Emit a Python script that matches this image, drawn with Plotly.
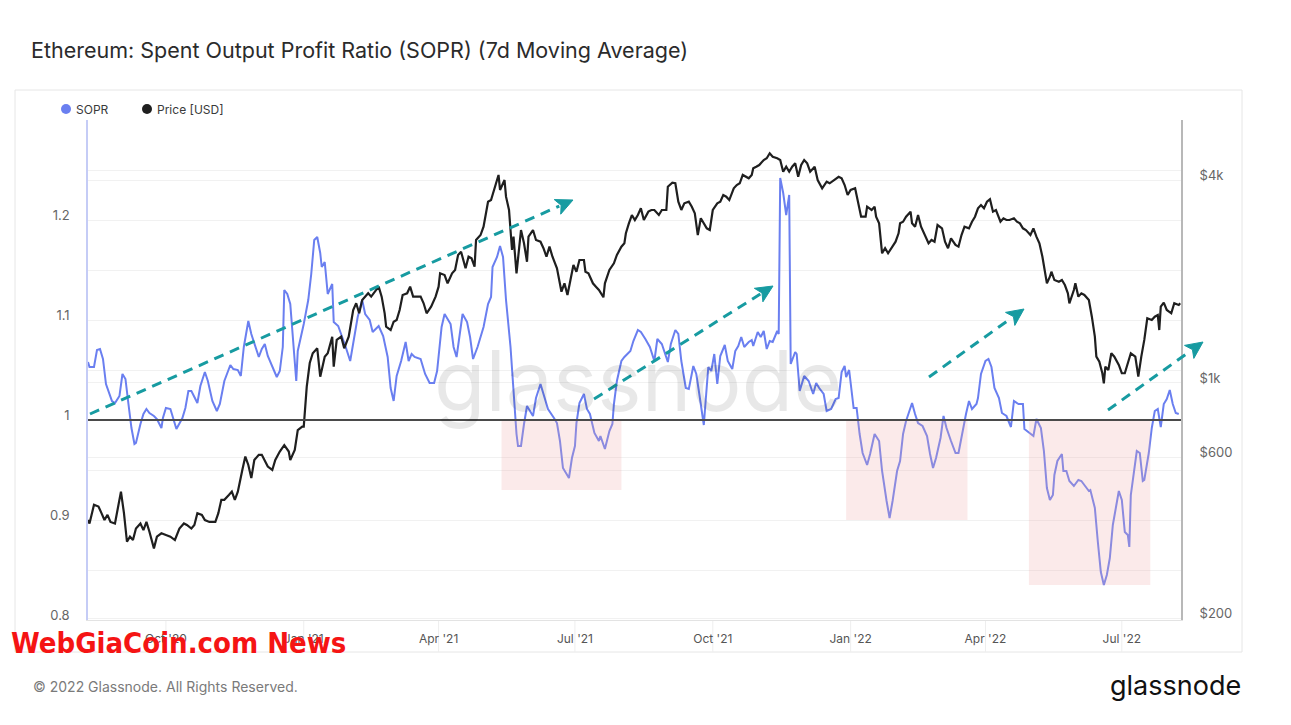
import math
import pandas as pd
import plotly.graph_objects as go

# ---------------- data ----------------
START = pd.Timestamp("2020-08-10")

sopr_day = [0,1,4,6,8,10,12,16,18,21,23,25,27,29,31,32,35,37,39,41,44,46,49,50,52,55,56,59,63,65,67,69,73,75,78,80,83,86,88,91,95,97,100,102,104,107,109,111,114,116,118,120,123,126,128,130,131,133,135,137,139,140,144,147,149,151,153,155,156,158,160,163,164,167,169,172,175,178,180,183,185,188,190,194,197,200,202,204,206,209,212,214,216,218,222,225,228,231,233,236,238,242,244,246,248,250,253,255,257,260,264,267,269,270,273,275,277,279,282,284,286,287,289,291,293,295,297,299,302,305,307,311,313,315,317,321,323,325,326,328,331,333,335,338,341,342,345,348,350,351,353,356,358,362,364,367,369,372,375,378,380,383,385,387,389,392,394,396,399,401,404,406,408,411,414,416,418,420,422,425,427,430,432,434,436,438,441,443,444,447,449,451,453,455,457,460,461,462,464,466,468,469,472,473,475,478,481,484,486,488,491,493,496,499,501,503,505,506,508,510,511,513,515,517,520,522,525,528,530,533,535,537,540,542,544,546,550,552,554,557,560,562,564,566,569,571,573,576,579,581,583,584,586,588,590,593,594,596,599,601,603,605,608,610,613,616,618,621,624,625,629,631,633,636,638,640,642,644,645,647,650,651,653,655,658,661,663,665,668,669,672,674,676,678,680,682,684,686,688,690,692,694,695,696,698,700,702,704,705,708,710,712,714,716,718,720,722,724,726,728]
sopr_val = [1.058,1.053,1.053,1.070,1.071,1.061,1.036,1.019,1.017,1.024,1.046,1.041,1.016,0.992,0.976,0.977,0.996,1.006,1.011,1.007,1.004,1.001,0.992,1.002,1.012,1.011,1.006,0.991,1.002,1.012,1.029,1.029,1.017,1.034,1.048,1.039,1.019,1.009,1.016,1.039,1.055,1.051,1.050,1.044,1.073,1.099,1.086,1.076,1.063,1.071,1.076,1.064,1.054,1.043,1.049,1.073,1.130,1.126,1.116,1.073,1.039,1.069,1.096,1.120,1.146,1.180,1.183,1.167,1.153,1.158,1.126,1.136,1.098,1.094,1.086,1.073,1.059,1.083,1.103,1.120,1.106,1.100,1.088,1.094,1.084,1.063,1.032,1.019,1.044,1.059,1.078,1.059,1.066,1.063,1.061,1.046,1.037,1.037,1.049,1.093,1.106,1.096,1.073,1.063,1.083,1.106,1.098,1.083,1.061,1.073,1.093,1.116,1.123,1.153,1.163,1.174,1.163,1.120,1.073,1.026,0.986,0.974,0.974,0.996,1.014,1.009,1.004,1.022,1.036,1.021,1.011,1.002,0.997,0.979,0.952,0.942,0.962,0.974,0.997,1.017,1.026,1.011,1.006,0.987,0.979,0.984,0.971,0.989,0.996,1.016,1.039,1.059,1.063,1.069,1.079,1.090,1.088,1.081,1.073,1.059,1.081,1.076,1.066,1.058,1.076,1.090,1.086,1.059,1.032,1.031,1.054,1.046,1.026,0.995,1.053,1.049,1.066,1.036,1.064,1.075,1.059,1.051,1.069,1.074,1.083,1.073,1.078,1.080,1.074,1.088,1.083,1.089,1.071,1.079,1.078,1.089,1.086,1.242,1.227,1.205,1.225,1.056,1.068,1.066,1.029,1.044,1.039,1.026,1.037,1.032,1.026,1.009,1.011,1.021,1.022,1.048,1.054,1.043,1.050,1.021,1.012,1.012,0.986,0.967,0.955,0.966,0.986,0.979,0.949,0.919,0.902,0.919,0.949,0.959,0.986,0.999,1.017,1.006,0.997,0.994,0.984,0.966,0.952,0.962,0.982,1.004,0.992,0.979,0.967,0.967,0.984,0.989,1.006,1.019,1.011,1.016,1.022,1.046,1.059,1.061,1.053,1.032,1.022,1.007,1.004,0.993,1.019,1.016,1.016,0.991,0.986,0.984,1.001,0.992,0.969,0.932,0.920,0.925,0.945,0.959,0.966,0.949,0.949,0.939,0.934,0.940,0.939,0.935,0.929,0.930,0.912,0.878,0.848,0.835,0.845,0.862,0.895,0.912,0.929,0.920,0.888,0.885,0.873,0.925,0.945,0.969,0.967,0.939,0.940,0.967,0.992,1.009,1.011,0.993,1.016,1.021,1.030,1.016,1.007,1.006]

price_day = [0,1,4,7,9,11,13,15,18,20,22,24,26,28,30,32,35,37,39,41,44,46,49,52,55,58,61,64,66,69,71,73,76,78,81,85,87,89,91,94,96,98,100,103,105,107,109,111,114,116,118,120,123,125,128,131,134,135,138,140,143,144,146,148,150,153,155,158,160,163,164,166,169,171,174,177,179,181,183,185,187,189,192,194,196,198,199,202,204,206,208,210,213,215,217,219,222,224,226,229,232,234,235,238,240,243,245,247,249,252,254,256,258,259,262,264,266,267,269,272,274,275,278,279,281,283,284,286,288,289,291,293,294,297,299,302,304,306,308,310,313,315,316,318,320,322,324,326,328,331,332,334,337,339,341,344,345,348,351,353,356,358,359,361,363,365,367,369,371,374,376,378,381,383,386,387,390,392,394,396,398,401,403,405,407,409,411,413,415,417,420,422,424,426,428,431,433,435,437,441,443,444,446,448,451,453,455,457,460,462,464,466,468,470,472,474,476,478,480,482,485,487,490,493,495,498,501,503,505,507,509,512,514,516,519,520,523,525,526,528,530,532,534,536,539,541,542,544,546,549,550,552,554,556,559,561,563,565,567,570,572,574,576,579,581,583,585,588,590,592,594,596,598,600,602,604,606,609,611,613,615,618,620,622,624,626,629,631,633,635,637,638,640,642,643,645,648,650,652,654,655,658,659,661,663,665,668,670,672,673,675,677,678,679,681,683,685,688,690,692,694,696,699,701,703,705,707,710,712,714,715,716,718,720,723,725,728,729]
price_val = [392,383,435,430,411,392,406,387,383,430,476,411,338,350,342,370,383,366,387,362,323,350,358,354,350,342,370,383,379,370,379,411,406,392,387,387,411,450,450,465,476,450,476,552,605,571,522,591,612,612,591,565,552,591,626,654,626,591,633,725,742,742,975,1146,1225,1268,1044,1197,1225,1372,1118,1342,1372,1268,1372,1647,1724,1610,1763,1804,1846,1804,1888,1931,1804,1610,1469,1436,1520,1538,1647,1825,1846,1931,1804,1804,1804,1724,1610,1684,1804,1931,2116,2091,1976,2116,2164,2398,2452,2189,2370,2344,2213,2657,2748,2909,3224,3451,3491,3914,4143,3738,4003,3571,3261,2481,2717,2116,2657,2844,2598,2290,2717,2844,2657,2626,2511,2370,2538,2370,2189,1976,1866,1976,1825,2021,2239,2139,2317,2317,2139,2116,1976,1931,1888,1796,1976,2164,2265,2398,2538,2598,2781,2977,3151,3045,3151,3299,3045,3224,3261,3261,3151,3261,3261,3824,3930,3914,3451,3261,3413,3451,3335,3188,2748,3081,2977,2877,2844,3261,3413,3451,3612,3571,3491,3782,3868,3914,4143,4049,4143,4335,4383,4434,4588,4642,4804,4693,4642,4588,4236,4383,4236,4383,4486,4093,4434,4588,4486,4236,4383,4003,3782,3957,3914,4003,4093,4049,3868,3612,3738,3782,3451,3115,3115,3335,3261,3335,3115,2977,2426,2511,2426,2511,2626,2781,2977,3010,3115,3224,2977,2909,3151,2909,2717,2598,2657,2626,2943,2877,2626,2511,2687,2568,2538,2748,2909,2877,3010,3115,3299,3374,3299,3451,3508,3224,3261,3010,3081,3045,3045,3081,3010,2977,2877,2844,2748,2877,2717,2598,2370,2239,1976,2067,2139,2021,1998,2021,1953,1846,1724,1888,1976,1804,1846,1825,1763,1573,1372,1197,1157,1069,998,1118,1093,1225,1197,1131,1069,1069,1144,1225,1197,1044,1197,1342,1556,1538,1573,1592,1436,1684,1731,1647,1610,1724,1704,1724]

x_range = ["2020-08-10", "2022-08-09 12:00"]
x_tick_dates = ["2020-10-01", "2021-01-01", "2021-04-01", "2021-07-01",
                "2021-10-01", "2022-01-01", "2022-04-01", "2022-07-01"]
x_tick_text = ["Oct '20", "Jan '21", "Apr '21", "Jul '21",
               "Oct '21", "Jan '22", "Apr '22", "Jul '22"]
sopr_range = [0.8, 1.3]
sopr_ticks = [0.8, 0.9, 1.0, 1.1, 1.2]
sopr_tick_text = ["0.8", "0.9", "1", "1.1", "1.2"]
price_log_range = [2.2967, 3.7804]
price_ticks = [200, 600, 1000, 4000]
price_tick_text = ["$200", "$600", "$1k", "$4k"]

# SOPR < 1 (capitulation) zones: start date, end date, lower SOPR bound
loss_start = ["2021-05-13", "2021-12-29", "2022-04-30"]
loss_end = ["2021-08-01", "2022-03-20", "2022-07-20"]
loss_low = [0.930, 0.900, 0.835]

# ---------------- layout helpers ----------------
W, H = 1291, 725
PL, PR, PT, PB = 88, 1181, 120, 620


def px(x):
    return (x - PL) / (PR - PL)


def py(y):
    return (PB - y) / (PB - PT)


FONT = "Inter, 'Noto Sans', sans-serif"
BLUE = "#6a7ff0"
BLACK = "#1f1f1f"
TEAL = "#179ba1"

sopr_dates = [START + pd.Timedelta(days=d) for d in sopr_day]
price_dates = [START + pd.Timedelta(days=d) for d in price_day]

fig = go.Figure()
fig.add_trace(go.Scatter(x=sopr_dates, y=sopr_val, mode="lines", name="SOPR",
                         line=dict(color=BLUE, width=2), yaxis="y", showlegend=False))
fig.add_trace(go.Scatter(x=price_dates, y=price_val, mode="lines", name="Price [USD]",
                         line=dict(color=BLACK, width=2.2), yaxis="y2", showlegend=False))

shapes = []
# chart container
shapes.append(dict(type="rect", xref="paper", yref="paper", x0=px(15), x1=px(1242),
                   y0=py(652), y1=py(90), line=dict(color="#e6e6e6", width=1),
                   fillcolor="rgba(0,0,0,0)", layer="below"))
# x tick separators below the axis
for d in x_tick_dates:
    shapes.append(dict(type="line", xref="x", yref="paper", x0=d, x1=d, y0=0, y1=py(652),
                       line=dict(color="#eeeeee", width=1), layer="below"))
# loss zones
for s, e, lo in zip(loss_start, loss_end, loss_low):
    shapes.append(dict(type="rect", xref="x", yref="y", x0=s, x1=e, y0=lo, y1=0.999,
                       fillcolor="rgba(240,170,170,0.25)", line=dict(width=0), layer="above"))
# SOPR = 1 baseline
shapes.append(dict(type="line", xref="paper", yref="y", x0=0, x1=1, y0=1.0, y1=1.0,
                   line=dict(color="#4a4a4a", width=2), layer="above"))

# dashed trend arrows (pixel positions of the analyst's drawing)
arrows = [(90, 414, 573, 200), (594, 399, 773, 286), (929, 377, 1024, 309), (1108, 410, 1203, 342)]
for x0, y0, x1, y1 in arrows:
    dx, dy = x1 - x0, y1 - y0
    L = math.hypot(dx, dy)
    ux, uy = dx / L, dy / L
    hl, hw = 17, 8
    bx, by = x1 - hl * ux, y1 - hl * uy
    nx, ny = -uy, ux
    shapes.append(dict(type="line", xref="paper", yref="paper", x0=px(x0), y0=py(y0),
                       x1=px(bx + 2 * ux), y1=py(by + 2 * uy),
                       line=dict(color=TEAL, width=3, dash="10px,7px"), layer="above"))
    pts = [(x1, y1), (bx + hw * nx, by + hw * ny), (bx + 4 * ux, by + 4 * uy), (bx - hw * nx, by - hw * ny)]
    path = "M " + " L ".join(f"{px(a):.5f},{py(b):.5f}" for a, b in pts) + " Z"
    shapes.append(dict(type="path", xref="paper", yref="paper", path=path,
                       fillcolor=TEAL, line=dict(color=TEAL, width=1), layer="above"))

# legend dots
for cx, col in [(66, BLUE), (147, BLACK)]:
    shapes.append(dict(type="circle", xref="paper", yref="paper",
                       x0=px(cx - 5), x1=px(cx + 5), y0=py(114), y1=py(104),
                       fillcolor=col, line=dict(width=0)))

annotations = [
    dict(text="SOPR", x=px(74), y=py(109.5), xref="paper", yref="paper", xanchor="left",
         yanchor="middle", showarrow=False, font=dict(family=FONT, size=12, color="#3a3a3a")),
    dict(text="Price [USD]", x=px(155), y=py(109.5), xref="paper", yref="paper", xanchor="left",
         yanchor="middle", showarrow=False, font=dict(family=FONT, size=12, color="#3a3a3a")),
    dict(text="glassnode", x=px(638), y=py(380), xref="paper", yref="paper", xanchor="center",
         yanchor="middle", showarrow=False,
         font=dict(family=FONT, size=84, color="rgba(0,0,0,0.09)")),
    dict(text="© 2022 Glassnode. All Rights Reserved.", x=px(31), y=py(686), xref="paper",
         yref="paper", xanchor="left", yanchor="middle", showarrow=False,
         font=dict(family=FONT, size=14, color="#7a7a7a")),
    dict(text="glassnode", x=px(1243), y=py(685), xref="paper", yref="paper", xanchor="right",
         yanchor="middle", showarrow=False, font=dict(family=FONT, size=27, color="#111111")),
    dict(text="<span style='font-stretch:condensed'><b>WebGiaCoin.com News</b></span>",
         x=px(9), y=py(643), xref="paper", yref="paper",
         xanchor="left", yanchor="middle", showarrow=False,
         font=dict(family="'DejaVu Sans', sans-serif", size=29, color="#f51414")),
]

fig.update_layout(
    width=W, height=H,
    margin=dict(l=PL, r=W - PR, t=PT, b=H - PB, pad=0),
    paper_bgcolor="white", plot_bgcolor="white",
    font=dict(family=FONT, color="#555555"),
    title=dict(text="Ethereum: Spent Output Profit Ratio (SOPR) (7d Moving Average)",
               x=31 / W, y=1 - 50 / H, xref="container", yref="container",
               xanchor="left", yanchor="middle",
               font=dict(family=FONT, size=21.5, color="#2b2b2b")),
    xaxis=dict(type="date", range=x_range, tickvals=x_tick_dates, ticktext=x_tick_text,
               showgrid=False, zeroline=False, showline=True, linecolor="#e3e3e3", linewidth=1,
               ticks="", ticklabelstandoff=8, tickfont=dict(size=12, color="#555555")),
    yaxis=dict(range=sopr_range, tickvals=sopr_ticks, ticktext=sopr_tick_text,
               showgrid=True, gridcolor="#f1f1f1", gridwidth=1, zeroline=False,
               minor=dict(dtick=0.05, showgrid=True, gridcolor="#f1f1f1", gridwidth=1),
               showline=True, linecolor="#c5ccf6", linewidth=1.5, ticks="",
               ticklabelstandoff=14, ticklabelshift=-5,
               tickfont=dict(size=13, color="#666666")),
    yaxis2=dict(type="log", range=price_log_range, overlaying="y", side="right",
                tickvals=price_ticks, ticktext=price_tick_text,
                showgrid=True, gridcolor="#f1f1f1", zeroline=False,
                showline=True, linecolor="#b8b8b8", linewidth=2, ticks="",
                ticklabelstandoff=14, ticklabelshift=-5,
                tickfont=dict(size=13, color="#666666")),
    shapes=shapes,
    annotations=annotations,
    showlegend=False,
)

fig.write_html("out.html", config={"displayModeBar": False},
               post_script="document.body.style.margin='0';")
